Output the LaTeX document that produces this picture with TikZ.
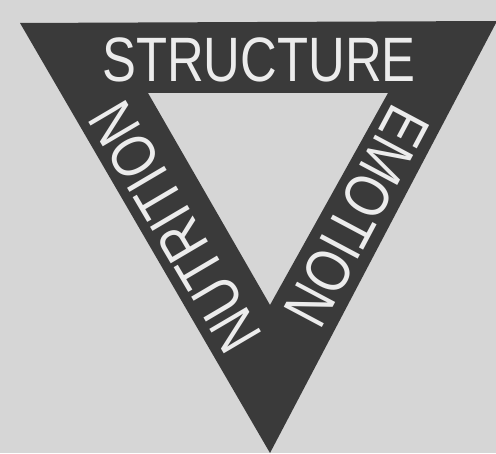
\documentclass[tikz,border=0pt]{standalone}
\usepackage{fontspec}
\newfontfamily\trifont[FakeStretch=0.81]{Liberation Sans}
\definecolor{cpaper}{HTML}{D6D6D6}
\definecolor{cdark}{HTML}{3A3A3A}
\definecolor{cletter}{HTML}{ECECEC}
\tikzset{
  every picture/.style={x=0.02cm, y=0.02cm},
  word/.style={text=cletter, inner sep=0pt, font=\trifont\fontsize{35.7}{40}\selectfont},
}

\begin{document}
\begin{tikzpicture}
  % ---------- paper ----------
  \fill[cpaper] (0,0) rectangle (496,453);
  \useasboundingbox (0,0) rectangle (496,453);
  % ---------- triangle band ----------
  \fill[cdark, even odd rule]
    (20,430) -- (497,432) -- (270,0) -- cycle
    (148,360) -- (388,360) -- (270,148) -- cycle;
  % ---------- words ----------
  \node[word] (structure) at (259,393.5) {STRUCTURE};
  \node[word, rotate=120.5] (nutrition) at (175,226) {NUTRITION};
  \node[word, rotate=-118] (emotion) at (357,237) {EMOTION};
\end{tikzpicture}
\end{document}
